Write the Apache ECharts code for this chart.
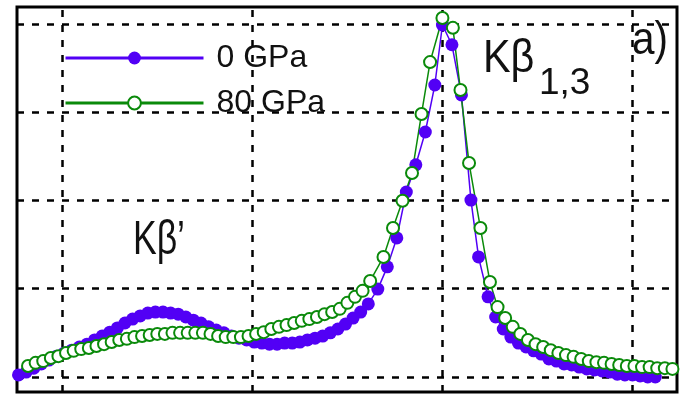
<!DOCTYPE html>
<html>
<head>
<meta charset="utf-8">
<script src="https://cdn.jsdelivr.net/npm/echarts@6/dist/echarts.min.js"></script>
<style>
  html, body { margin: 0; padding: 0; background: #fff; }
  #chart { width: 680px; height: 397px; }
</style>
</head>
<body>
<div id="chart"></div>
<script>
// Fe K-beta emission spectra at two pressures (energy in eV, normalised intensity)
const seriesNames = ['0 GPa', '80 GPa'];

const energy0 = [
  7035.7, 7036.1, 7036.5, 7036.9, 7037.3, 7037.7, 7038.1, 7038.5, 7038.9, 7039.3,
  7039.7, 7040.1, 7040.5, 7040.9, 7041.3, 7041.7, 7042.1, 7042.5, 7042.9, 7043.3,
  7043.7, 7044.1, 7044.5, 7044.9, 7045.3, 7045.7, 7046.1, 7046.5, 7046.9, 7047.3,
  7047.7, 7048.1, 7048.5, 7048.9, 7049.3, 7049.7, 7050.1, 7050.5, 7050.9, 7051.3,
  7051.7, 7052.1, 7052.5, 7052.9, 7053.3, 7053.7, 7054.1,
  7054.6, 7055.1, 7055.6, 7056.1, 7056.6, 7057.1, 7057.6, 7058.0, 7058.5, 7059.0,
  7059.5, 7059.9, 7060.4,
  7060.8, 7061.2, 7061.6, 7062.0, 7062.4, 7062.8, 7063.2, 7063.6, 7064.0, 7064.4,
  7064.8, 7065.2, 7065.6, 7066.0, 7066.4, 7066.8, 7067.2, 7067.6, 7068.0, 7068.4,
  7068.8, 7069.2
];
const intensity0 = [
  0.006, 0.014, 0.025, 0.037, 0.048, 0.059, 0.068, 0.076, 0.085, 0.093,
  0.105, 0.116, 0.127, 0.139, 0.153, 0.164, 0.173, 0.181, 0.184, 0.184,
  0.181, 0.178, 0.170, 0.161, 0.153, 0.142, 0.133, 0.125, 0.116, 0.110,
  0.105, 0.099, 0.096, 0.093, 0.093, 0.096, 0.096, 0.099, 0.105, 0.110,
  0.116, 0.125, 0.136, 0.150, 0.167, 0.184, 0.207,
  0.249, 0.312, 0.394, 0.524, 0.601, 0.694, 0.827, 0.997, 0.941, 0.799,
  0.501, 0.340, 0.227,
  0.170, 0.136, 0.113, 0.096, 0.085, 0.074, 0.065, 0.051, 0.045, 0.037,
  0.034, 0.028, 0.023, 0.020, 0.017, 0.014, 0.008, 0.006, 0.006, 0.003,
  0.000, 0.000
];

const energy80 = [
  7036.2, 7036.6, 7037.0, 7037.4, 7037.8, 7038.2, 7038.6, 7039.0, 7039.4, 7039.8,
  7040.2, 7040.6, 7041.0, 7041.4, 7041.8, 7042.2, 7042.6, 7043.0, 7043.4, 7043.8,
  7044.2, 7044.6, 7045.0, 7045.4, 7045.8, 7046.2, 7046.6, 7047.0, 7047.4, 7047.8,
  7048.2, 7048.6, 7049.0, 7049.4, 7049.8, 7050.2, 7050.6, 7051.0, 7051.4, 7051.8,
  7052.2, 7052.6, 7053.0, 7053.4, 7053.8, 7054.2,
  7054.9, 7055.4, 7055.9, 7056.4, 7056.9, 7057.35, 7058.0, 7058.55, 7058.95, 7059.4,
  7060.0, 7060.5,
  7060.9, 7061.3, 7061.7, 7062.1, 7062.5, 7062.9, 7063.3, 7063.7, 7064.1, 7064.5,
  7064.9, 7065.3, 7065.7, 7066.1, 7066.5, 7066.9, 7067.3, 7067.7, 7068.1, 7068.5,
  7068.9, 7069.3, 7069.7, 7070.1
];
const intensity80 = [
  0.031, 0.040, 0.045, 0.054, 0.059, 0.068, 0.074, 0.079, 0.082, 0.088,
  0.093, 0.099, 0.105, 0.108, 0.113, 0.116, 0.119, 0.122, 0.122, 0.125,
  0.125, 0.125, 0.125, 0.125, 0.122, 0.116, 0.113, 0.113, 0.113, 0.116,
  0.122, 0.127, 0.136, 0.142, 0.147, 0.153, 0.159, 0.164, 0.170, 0.178,
  0.184, 0.193, 0.210, 0.227, 0.244, 0.272,
  0.340, 0.422, 0.499, 0.578, 0.745, 0.892, 1.017, 0.989, 0.813, 0.606,
  0.422, 0.269,
  0.198, 0.167, 0.142, 0.122, 0.105, 0.093, 0.085, 0.076, 0.068, 0.062,
  0.057, 0.051, 0.045, 0.042, 0.040, 0.037, 0.034, 0.031, 0.031, 0.028,
  0.028, 0.025, 0.025, 0.023
];

// dotted reference grid positions
const energyGrid = [7038, 7048, 7058, 7068];
const intensityGrid = [0, 0.25, 0.5, 0.75, 1.0];

const pair = (xs, ys) => xs.map((x, i) => [x, ys[i]]);

const gridLines = energyGrid.map(v => ({ xAxis: v }))
  .concat(intensityGrid.map(v => ({ yAxis: v })));

const FONT = 'Liberation Sans';
const chart = echarts.init(document.getElementById('chart'), null, { renderer: 'canvas' });

chart.setOption({
  animation: false,
  backgroundColor: '#fff',
  grid: {
    left: 17, right: 3, top: 7, bottom: 5,
    show: true, borderColor: '#000', borderWidth: 3, backgroundColor: 'transparent'
  },
  xAxis: {
    type: 'value', min: 7035.62, max: 7070.34,
    axisLine: { show: false }, axisTick: { show: false },
    axisLabel: { show: false }, splitLine: { show: false }
  },
  yAxis: {
    type: 'value', min: -0.0425, max: 1.048,
    axisLine: { show: false }, axisTick: { show: false },
    axisLabel: { show: false }, splitLine: { show: false }
  },
  legend: {
    orient: 'vertical', left: 59, top: 37,
    itemWidth: 138, itemHeight: 16, itemGap: 13,
    selectedMode: false,
    data: seriesNames,
    lineStyle: { width: 3 },
    textStyle: { fontSize: 32, fontFamily: FONT, color: '#111', padding: [0, 0, 0, 8] }
  },
  series: [
    {
      name: seriesNames[0], type: 'line', clip: false,
      data: pair(energy0, intensity0),
      symbol: 'circle', symbolSize: 13,
      itemStyle: { color: '#5200f5' },
      lineStyle: { color: '#5200f5', width: 1.5 },
      markLine: {
        silent: true, symbol: 'none', z: 1,
        label: { show: false },
        lineStyle: { color: '#000', width: 2.5, type: [7, 8] },
        data: gridLines
      }
    },
    {
      name: seriesNames[1], type: 'line', clip: false,
      data: pair(energy80, intensity80),
      symbol: 'emptyCircle', symbolSize: 12,
      itemStyle: { color: '#0a8a0a', borderWidth: 2 },
      lineStyle: { color: '#0a8a0a', width: 1.5 }
    }
  ],
  graphic: [
    { type: 'text', x: 483, y: 59, scaleX: 0.88, style: { text: 'Kβ', font: '47px "Liberation Sans"', fill: '#111', verticalAlign: 'middle' } },
    { type: 'text', x: 539, y: 84, style: { text: '1,3', font: '37px "Liberation Sans"', fill: '#111', verticalAlign: 'middle' } },
    { type: 'text', x: 632, y: 41, scaleX: 0.88, style: { text: 'a)', font: '46px "Liberation Sans"', fill: '#111', verticalAlign: 'middle' } },
    { type: 'text', x: 133, y: 240.5, scaleX: 0.74, style: { text: 'Kβ’', font: '48px "Liberation Sans"', fill: '#111', verticalAlign: 'middle' } }
  ]
});
</script>
</body>
</html>
